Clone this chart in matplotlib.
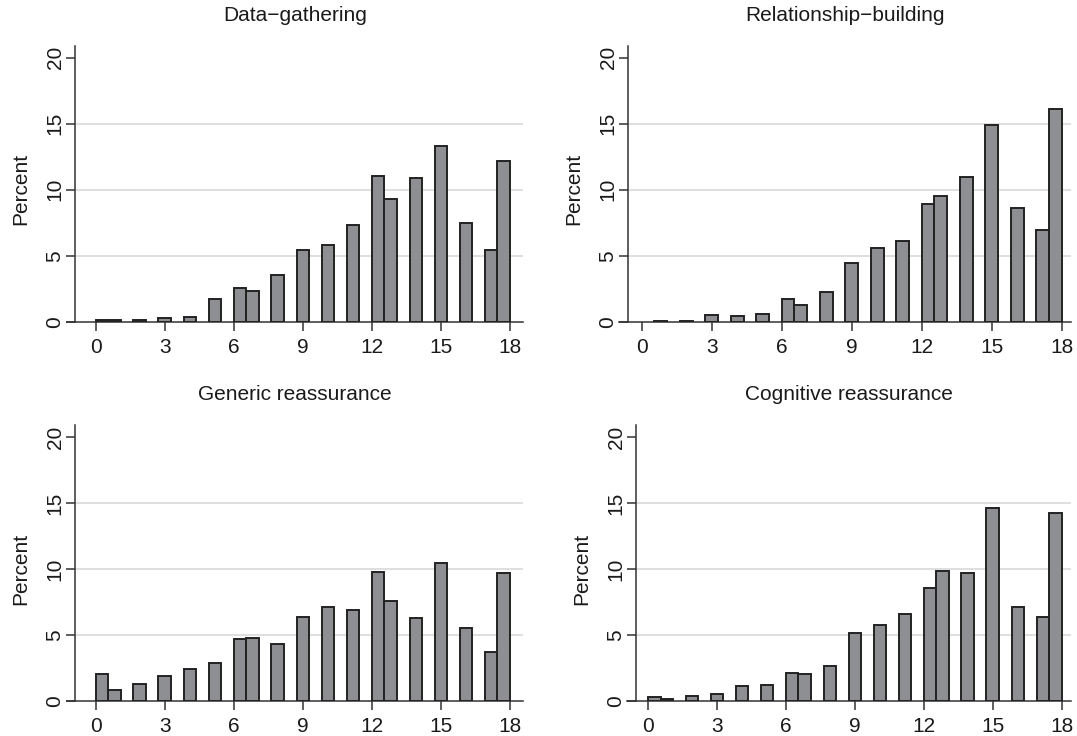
import numpy as np
import matplotlib
matplotlib.use("Agg")
import matplotlib.pyplot as plt

plt.rcParams["font.family"] = ["Liberation Sans", "DejaVu Sans"]

# scores 0..18, percent of respondents per score
scores = np.arange(19)
data_gathering = [0.1, 0.1, 0.15, 0.25, 0.38, 1.7, 2.55, 2.35, 3.55, 5.4, 5.8, 7.35,
                  11.05, 9.3, 10.9, 13.3, 7.5, 5.45, 12.15]
relationship = [0.0, 0.08, 0.05, 0.5, 0.43, 0.58, 1.7, 1.3, 2.25, 4.45, 5.6, 6.15,
                8.95, 9.55, 10.95, 14.9, 8.65, 6.95, 16.1]
generic = [2.05, 0.85, 1.3, 1.9, 2.42, 2.85, 4.7, 4.8, 4.35, 6.37, 7.1, 6.87,
           9.8, 7.6, 6.3, 10.45, 5.5, 3.68, 9.7]
cognitive = [0.3, 0.15, 0.4, 0.53, 1.1, 1.22, 2.12, 2.03, 2.68, 5.17, 5.78, 6.6,
             8.57, 9.85, 9.73, 14.58, 7.15, 6.38, 14.25]
titles = ["Data\u2212gathering", "Relationship\u2212building",
          "Generic reassurance", "Cognitive reassurance"]
yticks = [0, 5, 10, 15, 20]
xticks = [0, 3, 6, 9, 12, 15, 18]
grid_at = [5, 10, 15]

NBINS = 33  # Stata default bin count for this N
edges = np.arange(NBINS + 1) * 18 / NBINS

W, H = 1077, 736
# px layout: (line start, spine, x of 0, x of 18, right end), (y of 0, top)
layout = [
    ((67, 75, 95.7, 510, 523), (321.7, 46)),
    ((619, 628, 641.7, 1061.7, 1071), (321.7, 46)),
    ((67, 75, 95.7, 510, 523), (701, 425)),
    ((627, 636, 648, 1061.7, 1071), (701, 425)),
]
YTOP = 20.9

fig = plt.figure(figsize=(W / 100, H / 100), dpi=100)
fig.patch.set_facecolor("white")

for vals, title, (xs, ys) in zip([data_gathering, relationship, generic, cognitive], titles, layout):
    x0, sp, z0, z18, x1 = xs
    yb, yt = ys
    ax = fig.add_axes([x0 / W, 1 - yb / H, (x1 - x0) / W, (yb - yt) / H])
    ppu = (z18 - z0) / 18
    xmin, xmax = (x0 - z0) / ppu, 18 + (x1 - z18) / ppu
    ax.set_xlim(xmin, xmax)
    ax.set_ylim(0, YTOP)

    counts, _ = np.histogram(scores, bins=edges, weights=vals)
    keep = counts > 0
    ax.bar(edges[:-1][keep], counts[keep], width=np.diff(edges)[keep], align="edge",
           color="#8e8f93", edgecolor="#222222", linewidth=1.4, zorder=3)

    # light gridlines only between the end ticks, from the y axis rightwards
    gx0 = xmin + (sp - x0) / ppu
    ax.hlines(grid_at, gx0, xmax, colors="#dcdcdc", linewidth=1.3, zorder=0)

    ax.set_yticks(yticks)
    ax.set_xticks(xticks)

    for s in ["top", "right"]:
        ax.spines[s].set_visible(False)
    for s in ["left", "bottom"]:
        ax.spines[s].set_color("#333333")
        ax.spines[s].set_linewidth(1.1)
    ax.spines["left"].set_position(("outward", -(sp - x0) * 0.72))
    ax.tick_params(axis="both", colors="#333333", labelcolor="#1a1a1a",
                   labelsize=15, length=6.5, width=1.1)
    ax.tick_params(axis="x", pad=5)
    ax.tick_params(axis="y", pad=1)
    for lab in ax.get_yticklabels():
        lab.set_rotation(90)
        lab.set_va("center")

    ax.set_ylabel("Percent", fontsize=15, color="#1a1a1a")
    ax.yaxis.set_label_coords((sp - 45 - x0) / (x1 - x0), 0.48)
    ax.set_title(title, fontsize=15, color="#1a1a1a", pad=18)

fig.savefig("out.png", dpi=100, facecolor="white")
